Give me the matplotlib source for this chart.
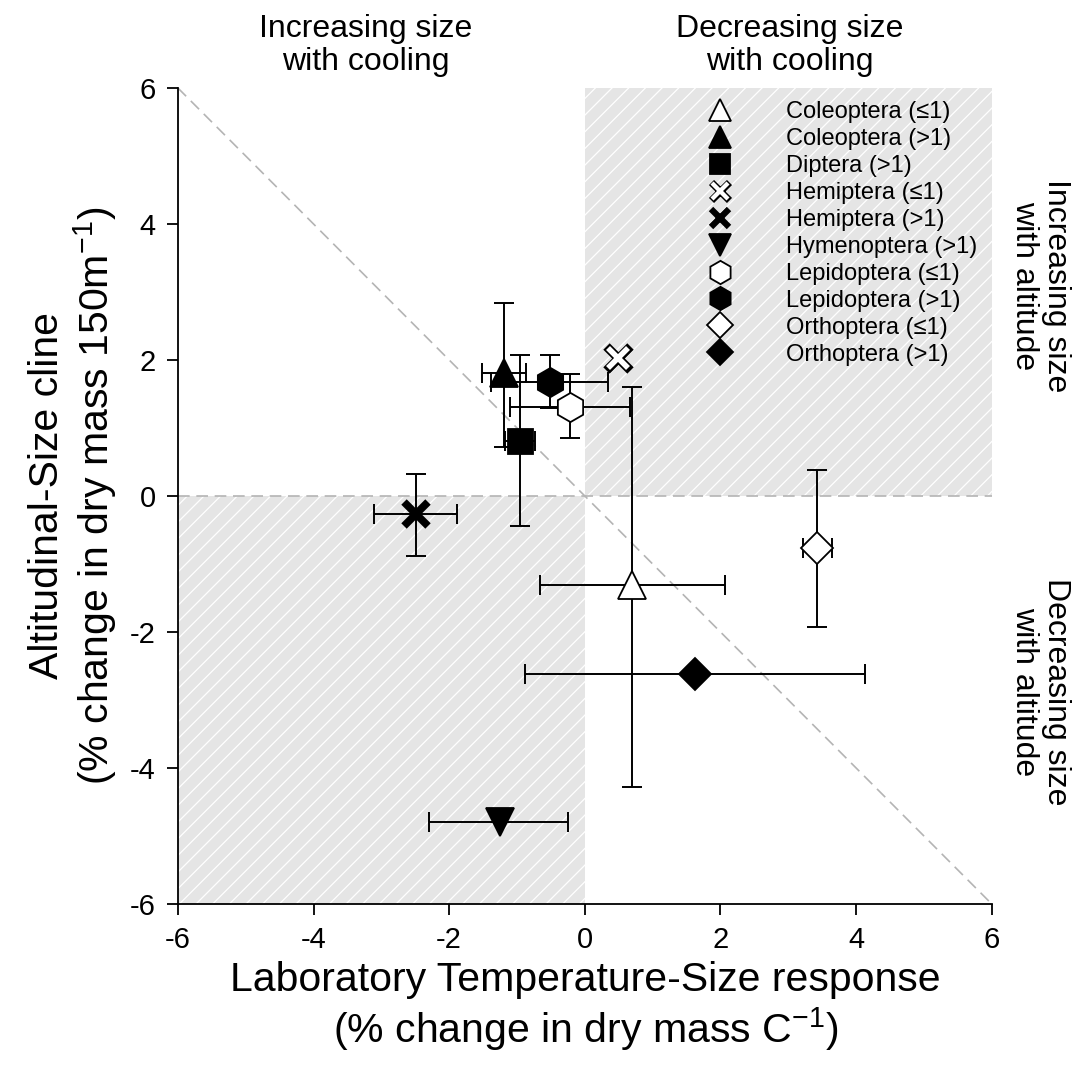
import numpy as np
import matplotlib
matplotlib.use("Agg")
import matplotlib.pyplot as plt
from matplotlib.lines import Line2D
from matplotlib.legend_handler import HandlerTuple

plt.rcParams['font.family'] = ['Liberation Sans', 'DejaVu Sans']
plt.rcParams['mathtext.fontset'] = 'custom'
plt.rcParams['mathtext.rm'] = 'Liberation Sans'
plt.rcParams['mathtext.it'] = 'Liberation Sans'
plt.rcParams['mathtext.bf'] = 'Liberation Sans:bold'
plt.rcParams['axes.unicode_minus'] = False
plt.rcParams['hatch.color'] = 'white'
plt.rcParams['hatch.linewidth'] = 0.9

labels = ["Coleoptera (≤1)", "Coleoptera (>1)", "Diptera (>1)", "Hemiptera (≤1)",
          "Hemiptera (>1)", "Hymenoptera (>1)", "Lepidoptera (≤1)", "Lepidoptera (>1)",
          "Orthoptera (≤1)", "Orthoptera (>1)"]
x_vals = [0.69, -1.19, -0.96, 0.49, -2.49, -1.25, -0.22, -0.52, 3.42, 1.62]
y_vals = [-1.31, 1.81, 0.81, 2.03, -0.27, -4.79, 1.31, 1.68, -0.76, -2.62]
x_low = [-0.66, -1.52, -1.18, np.nan, -3.11, -2.29, -1.11, -1.39, 3.21, -0.88]
x_high = [2.06, -0.87, -0.74, np.nan, -1.89, -0.25, 0.66, 0.34, 3.64, 4.13]
y_low = [-4.28, 0.72, -0.44, np.nan, -0.88, np.nan, 0.85, 1.29, -1.93, np.nan]
y_high = [1.60, 2.84, 2.07, np.nan, 0.32, np.nan, 1.79, 2.07, 0.38, np.nan]

markers = ['^', '^', 's', 'x', 'x', 'v', 'h', 'h', 'D', 'D']
faces = ['white', 'black', 'black', 'white', 'black', 'black', 'white', 'black', 'white', 'black']
sizes = [20, 20, 18, 17, 17, 20, 21, 21, 16, 16]

fig = plt.figure(figsize=(10.78, 10.86), dpi=100)
ax = fig.add_axes([0.165, 0.1676, 0.755, 0.7514])
ax.set_xlim(-6, 6)
ax.set_ylim(-6, 6)

# shaded quadrants
ax.fill_between([0, 6], 0, 6, facecolor='#e5e5e5', edgecolor='white', hatch='//', linewidth=0, zorder=0)
ax.fill_between([-6, 0], -6, 0, facecolor='#e5e5e5', edgecolor='white', hatch='//', linewidth=0, zorder=0)

# reference lines
ax.plot([-6, 6], [0, 0], ls=(0, (7, 4)), color='#b4b4b4', lw=1.2, zorder=1)
ax.plot([-6, 6], [6, -6], ls=(0, (7, 4)), color='#b4b4b4', lw=1.2, zorder=1)

handles = []
for i in range(len(labels)):
    xv, yv = x_vals[i], y_vals[i]
    if not np.isnan(x_low[i]):
        ax.errorbar([xv], [yv], xerr=[[xv - x_low[i]], [x_high[i] - xv]], fmt='none',
                    ecolor='black', elinewidth=1.4, capsize=7, capthick=1.4, zorder=2)
    if not np.isnan(y_low[i]):
        ax.errorbar([xv], [yv], yerr=[[yv - y_low[i]], [y_high[i] - yv]], fmt='none',
                    ecolor='black', elinewidth=1.4, capsize=7, capthick=1.4, zorder=2)
    ms = sizes[i]
    lms = sizes[i] * 0.8
    if markers[i] == 'x':
        if faces[i] == 'white':
            ax.plot([xv], [yv], marker='x', ms=ms, mec='black', mew=6.5, ls='none', zorder=3)
            ax.plot([xv], [yv], marker='x', ms=ms - 2.2, mec='white', mew=4.0, ls='none', zorder=4)
            h = (Line2D([], [], marker='x', ms=lms, mec='black', mew=5.2, ls='none'),
                 Line2D([], [], marker='x', ms=lms - 1.8, mec='white', mew=3.1, ls='none'))
        else:
            ax.plot([xv], [yv], marker='x', ms=ms, mec='black', mew=5.5, ls='none', zorder=3)
            h = Line2D([], [], marker='x', ms=lms, mec='black', mew=4.5, ls='none')
    else:
        ax.plot([xv], [yv], marker=markers[i], ms=ms, mfc=faces[i], mec='black',
                mew=1.3, ls='none', zorder=3)
        h = Line2D([], [], marker=markers[i], ms=lms, mfc=faces[i], mec='black', mew=1.3, ls='none')
    handles.append(h)

leg = ax.legend(handles, labels, loc='upper left', bbox_to_anchor=(0.637, 0.984),
                frameon=False, fontsize=17, labelspacing=0.21, handletextpad=1.8,
                borderaxespad=0.0, borderpad=0.0, handlelength=2.0,
                handler_map={tuple: HandlerTuple(ndivide=1, pad=0)})

ax.set_xticks(np.arange(-6, 7, 2))
ax.set_yticks(np.arange(-6, 7, 2))
ax.tick_params(labelsize=21, direction='out', length=8, width=1.3, pad=8)
for s in ['top', 'right']:
    ax.spines[s].set_visible(False)
for s in ['left', 'bottom']:
    ax.spines[s].set_linewidth(1.3)

ax.set_xlabel("Laboratory Temperature-Size response\n(% change in dry mass C$^{-1}$)",
              fontsize=29.5, linespacing=1.15, va='center')
ax.xaxis.set_label_coords(0.501, -0.126)
ax.set_ylabel("Altitudinal-Size cline\n(% change in dry mass 150m$^{-1}$)",
              fontsize=29.5, linespacing=1.15, va='center')
ax.yaxis.set_label_coords(-0.128, 0.5)

fig.text(0.339, 0.958, "Increasing size\nwith cooling", ha='center', va='center', fontsize=23, linespacing=1.1)
fig.text(0.733, 0.958, "Decreasing size\nwith cooling", ha='center', va='center', fontsize=23, linespacing=1.1)
fig.text(0.965, 0.737, "Increasing size\nwith altitude", ha='center', va='center', fontsize=23, rotation=-90, linespacing=1.1)
fig.text(0.965, 0.363, "Decreasing size\nwith altitude", ha='center', va='center', fontsize=23, rotation=-90, linespacing=1.1)

fig.savefig("out.png", dpi=100)
